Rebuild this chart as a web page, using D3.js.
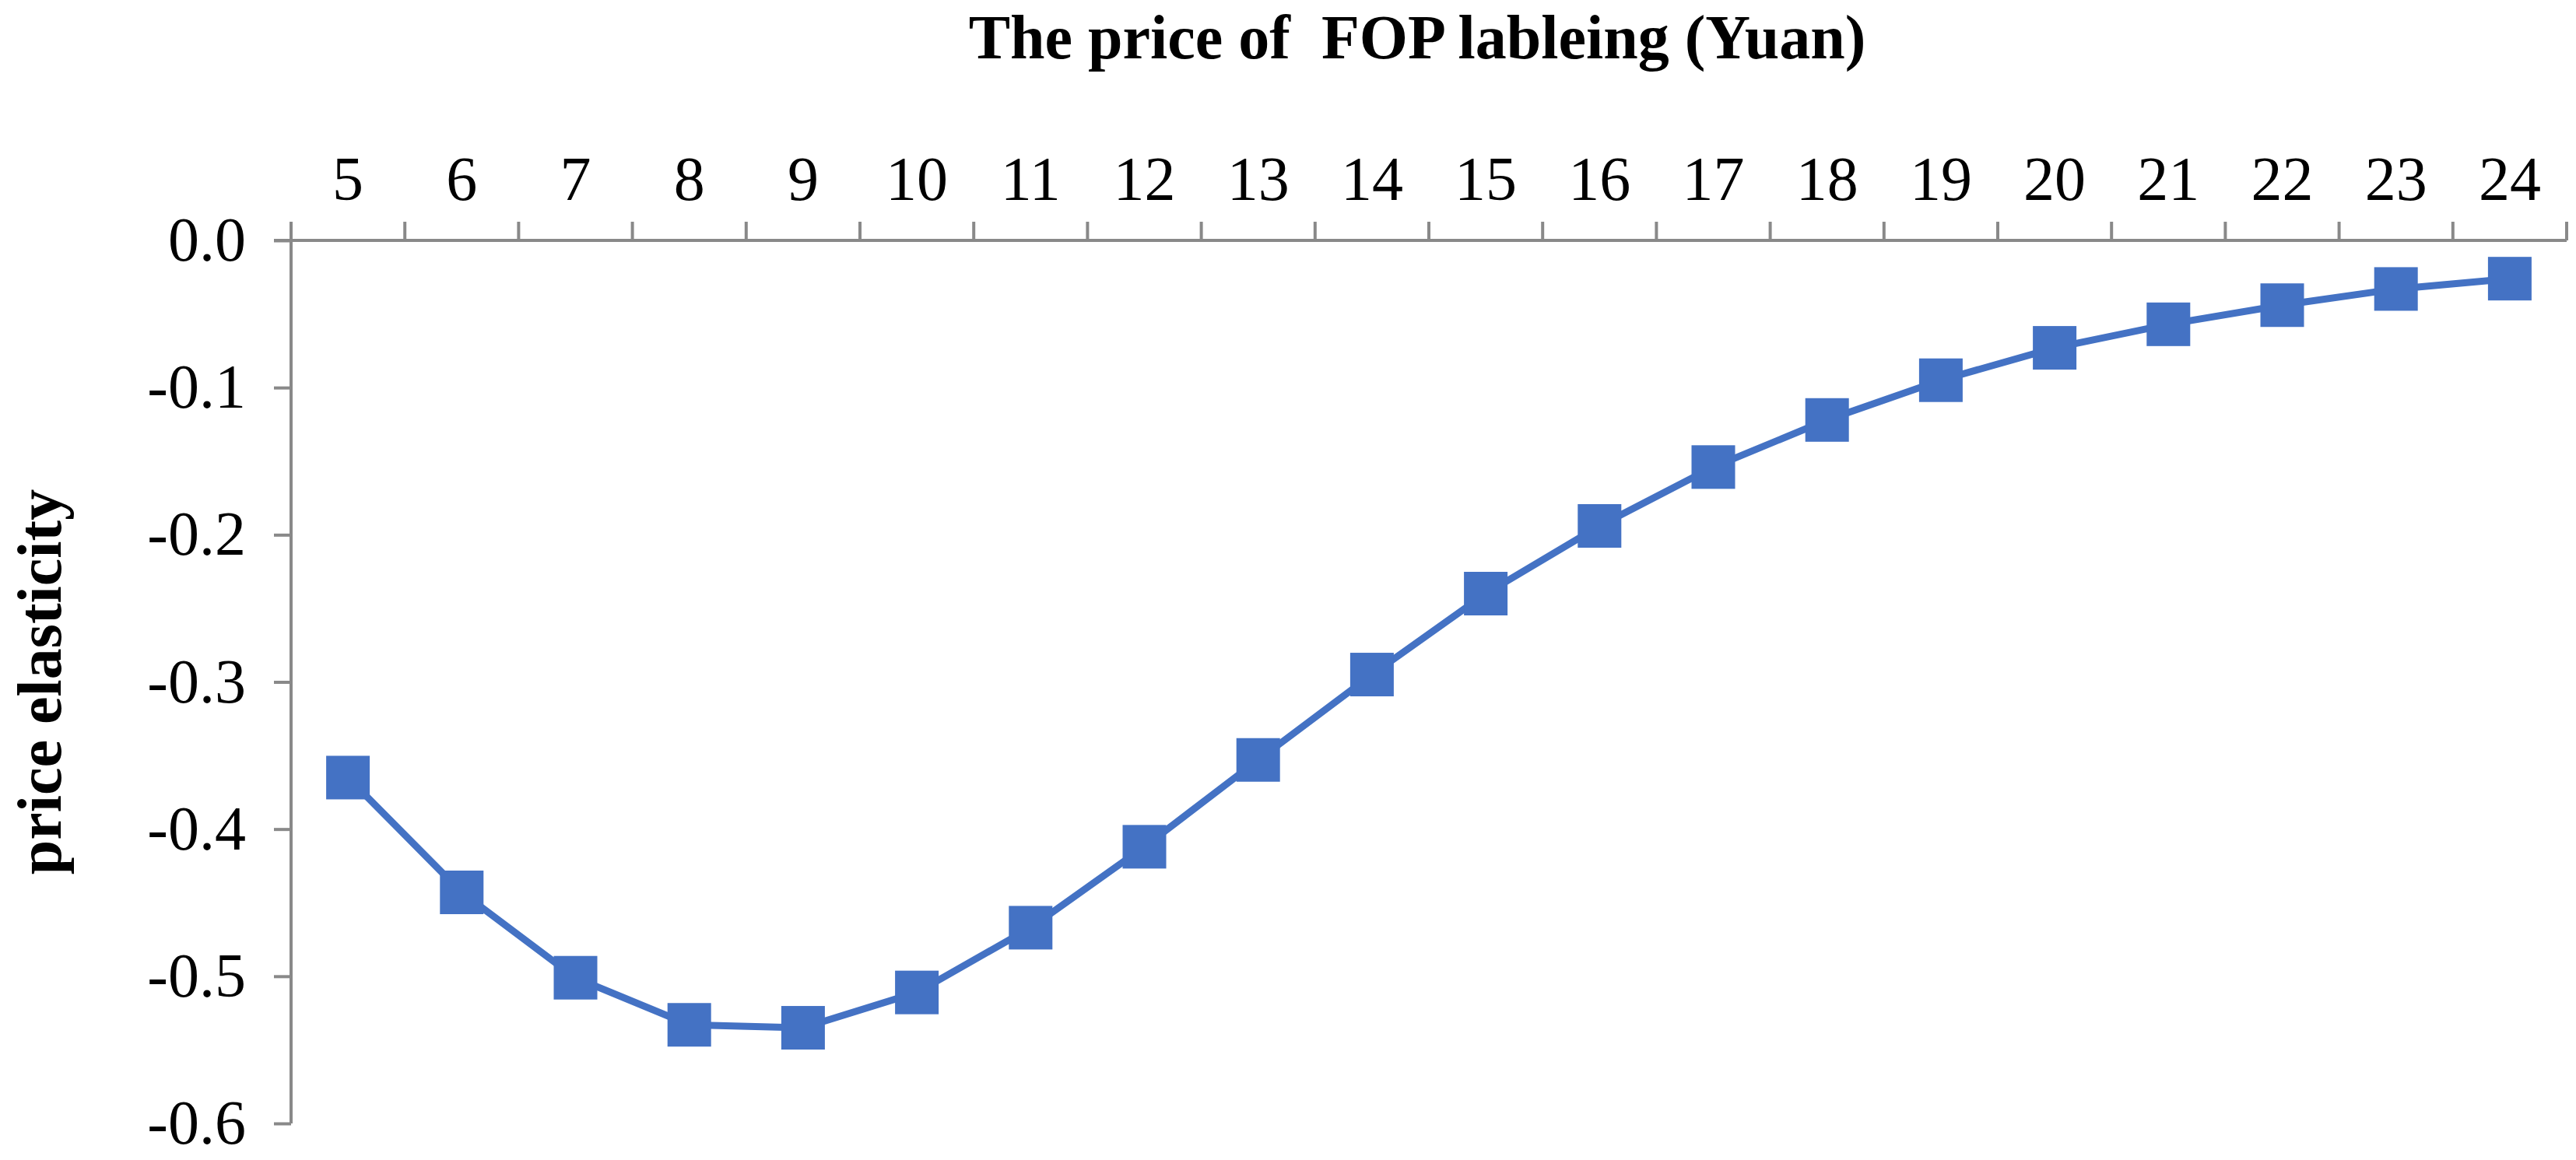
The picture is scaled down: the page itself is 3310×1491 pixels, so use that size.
<!DOCTYPE html>
<html><head><meta charset="utf-8">
<script src="https://cdn.jsdelivr.net/npm/d3@7"></script>
<style>body{margin:0;background:#fff}text{font-family:"Liberation Serif","Times New Roman",serif}</style>
</head><body>
<svg id="chart" width="3310" height="1491"></svg>
<script>
// price of FOP labeling vs price elasticity
var prices = [5,6,7,8,9,10,11,12,13,14,15,16,17,18,19,20,21,22,23,24];
var elasticity = [-0.365,-0.443,-0.501,-0.533,-0.535,-0.511,-0.467,-0.412,-0.353,-0.295,
                  -0.240,-0.194,-0.154,-0.122,-0.095,-0.073,-0.057,-0.044,-0.033,-0.026];
var yTicks = [0,-0.1,-0.2,-0.3,-0.4,-0.5,-0.6];

var svg = d3.select("#chart");
var mLeft = 374, mRight = 3298, mTop = 309, mBottom = 1444;

var x = d3.scaleBand().domain(prices).range([mLeft, mRight]);
var y = d3.scaleLinear().domain([-0.6, 0]).range([mBottom, mTop]);

var axisColor = "#898989";

// x axis on top
var xa = svg.append("g").attr("transform", `translate(0,${mTop})`)
    .call(d3.axisTop(x).tickSize(0).tickPadding(52));
xa.select(".domain").remove();
xa.selectAll("text").attr("font-size", 80).attr("fill", "#000");
svg.append("line").attr("x1", mLeft - 22).attr("x2", mRight).attr("y1", mTop).attr("y2", mTop)
    .attr("stroke", axisColor).attr("stroke-width", 4);
svg.selectAll(".xt").data(d3.range(prices.length + 1)).enter().append("line")
    .attr("x1", i => mLeft + i * x.step()).attr("x2", i => mLeft + i * x.step())
    .attr("y1", mTop).attr("y2", mTop - 24)
    .attr("stroke", axisColor).attr("stroke-width", 4);

// y axis
var ya = svg.append("g").attr("transform", `translate(${mLeft},0)`)
    .call(d3.axisLeft(y).tickValues(yTicks).tickSize(22).tickPadding(36));
ya.select(".domain").attr("stroke", axisColor).attr("stroke-width", 4)
    .attr("d", `M0,${mTop}V${mBottom}`);
ya.selectAll(".tick line").attr("stroke", axisColor).attr("stroke-width", 4);
ya.selectAll("text").attr("font-size", 80).attr("fill", "#000")
    .text(d => d === 0 ? "0.0" : d.toFixed(1));

// titles
svg.append("text").attr("x", (mLeft + mRight) / 2 - 15).attr("y", 75).attr("text-anchor", "middle")
    .attr("font-size", 80).attr("font-weight", "bold").attr("xml:space", "preserve")
    .style("white-space", "pre").text("The price of  FOP lableing (Yuan)");
svg.append("text").attr("transform", `translate(78,${(mTop + mBottom) / 2}) rotate(-90)`)
    .attr("text-anchor", "middle").attr("font-size", 80).attr("font-weight", "bold")
    .text("price elasticity");

// line + markers
var cx = d => x(d) + x.bandwidth() / 2;
var line = d3.line().x((d, i) => cx(prices[i])).y(d => y(d));
svg.append("path").datum(elasticity).attr("d", line)
    .attr("fill", "none").attr("stroke", "#4472C4").attr("stroke-width", 9);
svg.selectAll(".m").data(elasticity).enter().append("rect")
    .attr("x", (d, i) => cx(prices[i]) - 28).attr("y", d => y(d) - 28)
    .attr("width", 56).attr("height", 56).attr("fill", "#4472C4");
</script>
</body></html>
